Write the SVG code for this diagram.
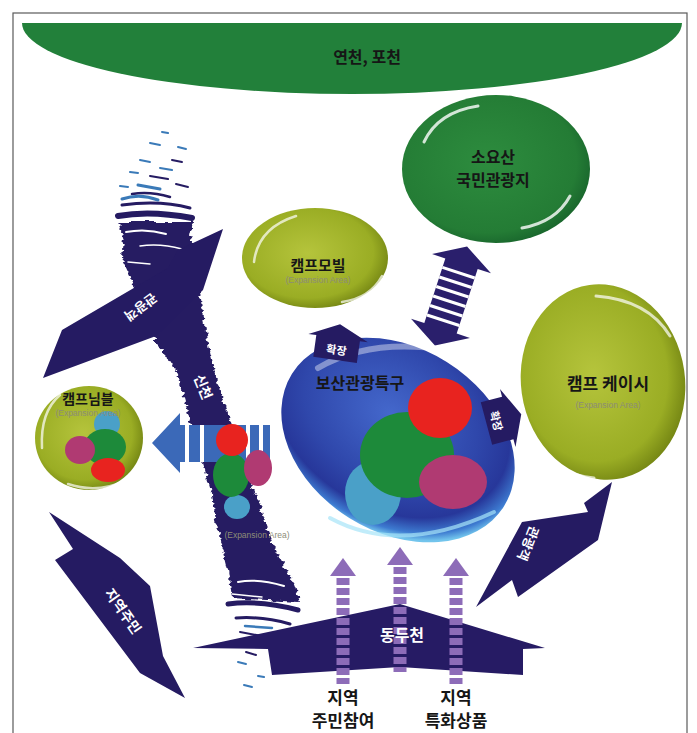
<svg xmlns="http://www.w3.org/2000/svg" width="697" height="733" viewBox="0 0 697 733">
<style>
.ko{font-family:"Noto Sans CJK KR","Noto Sans",sans-serif;font-weight:700;text-anchor:middle}
.dk{fill:#161616}
.wh{fill:#ffffff}
.en{font-family:"Liberation Sans","DejaVu Sans",sans-serif;fill:#8c8c78;text-anchor:middle;font-size:8.5px}
.navy{fill:#251b62}
.stripe{fill:none;stroke:#8d6cb8;stroke-width:13;stroke-dasharray:7 3}
.hl{fill:none;stroke:#ffffff;stroke-linecap:round}
.gap{fill:#ffffff}
.speck{fill:none;stroke-linecap:round}
</style>
<defs>
  <radialGradient id="olive" cx="0.45" cy="0.45" r="0.6">
    <stop offset="0" stop-color="#b5c43c"/>
    <stop offset="0.75" stop-color="#9aad24"/>
    <stop offset="1" stop-color="#6d7e10"/>
  </radialGradient>
  <radialGradient id="forest" cx="0.45" cy="0.45" r="0.6">
    <stop offset="0" stop-color="#2d8c3e"/>
    <stop offset="0.8" stop-color="#247c35"/>
    <stop offset="1" stop-color="#16602a"/>
  </radialGradient>
  <radialGradient id="globe" cx="0.42" cy="0.4" r="0.62">
    <stop offset="0" stop-color="#4468cc"/>
    <stop offset="0.6" stop-color="#2f47ab"/>
    <stop offset="0.82" stop-color="#27379a"/>
    <stop offset="0.94" stop-color="#3d7ad0"/>
    <stop offset="1" stop-color="#72c4ec"/>
  </radialGradient>
  <filter id="rough" x="-20%" y="-10%" width="140%" height="120%">
    <feTurbulence type="fractalNoise" baseFrequency="0.09 0.25" numOctaves="2" seed="4"/>
    <feDisplacementMap in="SourceGraphic" scale="8" xChannelSelector="R" yChannelSelector="G"/>
  </filter>
</defs>

<!-- frame -->
<rect x="13" y="13" width="674" height="740" fill="#ffffff" stroke="#5a5a5a" stroke-width="1.2"/>

<!-- 연천, 포천 band -->
<g id="yeoncheon">
  <path d="M22,23 L682,23 A330,71 0 0 1 22,23 Z" fill="#22803a"/>
  <text class="ko dk" x="367" y="63" font-size="16">연천, 포천</text>
</g>

<!-- 신천 stream -->
<g id="sincheon">
  <path class="navy" filter="url(#rough)" d="M118,222 L124,240 L122,258 L130,275 L136,295 L145,315 L152,335 L165,355 L178,375 L183,395 L190,420 L198,445 L205,470 L212,495 L216,520 L222,545 L228,570 L232,598 L300,602 L292,580 L280,560 L272,540 L263,515 L256,495 L248,470 L240,450 L232,425 L223,400 L217,380 L211,355 L206,330 L201,300 L198,275 L196,255 L190,235 L193,222 Z"/>
  <!-- ragged white scratches in the water -->
  <g class="speck" stroke="#ffffff">
    <path d="M126,232 Q146,228 166,234" stroke-width="2"/>
    <path d="M140,246 Q160,243 182,249" stroke-width="1.5"/>
    <path d="M128,262 L150,264" stroke-width="1.5"/>
    <path d="M238,582 Q258,578 284,586" stroke-width="2"/>
    <path d="M232,594 L262,597" stroke-width="1.5"/>
  </g>
  <g class="speck" stroke="#251b62">
    <path d="M118,216 Q150,210 192,218" stroke-width="6"/>
    <path d="M122,205 Q160,200 190,208" stroke-width="3"/>
    <path d="M132,194 Q150,191 170,197" stroke-width="2.5"/>
    <path d="M150,176 L168,179" stroke-width="2"/>
    <path d="M176,184 L188,187" stroke-width="2"/>
    <path d="M172,160 L182,162" stroke-width="2"/>
    <path d="M228,604 Q260,600 298,610" stroke-width="5"/>
    <path d="M236,618 Q262,616 290,624" stroke-width="3"/>
    <path d="M240,632 L262,636" stroke-width="2"/>
    <path d="M246,652 L256,655" stroke-width="2"/>
  </g>
  <g class="speck" stroke="#3a7ab8">
    <path d="M122,199 Q140,193 158,200" stroke-width="3"/>
    <path d="M138,185 L160,189" stroke-width="3"/>
    <path d="M120,186 L128,187" stroke-width="2"/>
    <path d="M160,168 L172,170" stroke-width="2"/>
    <path d="M140,160 L150,162" stroke-width="2"/>
    <path d="M150,143 L160,145" stroke-width="2"/>
    <path d="M178,147 L186,149" stroke-width="2"/>
    <path d="M162,132 L168,133" stroke-width="2"/>
    <path d="M130,172 L138,173" stroke-width="2"/>
    <path d="M245,626 L272,628" stroke-width="2.5"/>
    <path d="M232,644 L244,646" stroke-width="2"/>
    <path d="M238,662 L246,664" stroke-width="2"/>
    <path d="M244,685 L252,687" stroke-width="2"/>
    <path d="M258,676 L264,677" stroke-width="2"/>
  </g>
  <text class="ko wh" x="203" y="392" font-size="14" transform="rotate(68 203 387)">신천</text>
</g>

<!-- connectors: arrows -->
<g id="connectors">
  <!-- upper-left 관광객 arrow -->
  <g id="arrow-tourist-nw">
    <polygon class="navy" points="43,378 62,330 168,268 178,250 223,229 203,290 156,336"/>
    <text class="ko wh" x="140" y="306" font-size="13" transform="rotate(144 140 306)" dominant-baseline="middle">관광객</text>
  </g>
  <!-- 지역주민 arrow -->
  <g id="arrow-residents">
    <polygon class="navy" points="49,512 120,558 150,586 163,656 185,698 140,673 55,560 73,549"/>
    <text class="ko wh" x="122" y="612" font-size="14" transform="rotate(55 122 612)" dominant-baseline="middle">지역주민</text>
  </g>
  <!-- lower-right 관광객 arrow -->
  <g id="arrow-tourist-se">
    <polygon class="navy" points="612,482 584,503 588,512 522,522 476,607 512,580 518,597 598,540"/>
    <text class="ko wh" x="527" y="543" font-size="13" transform="rotate(112 527 543)" dominant-baseline="middle">관광객</text>
  </g>
  <!-- 소요산 <-> 보산 double arrow -->
  <g id="arrow-double" transform="translate(451,296) rotate(18)">
    <polygon fill="#2a1f6c" points="0,-52 31,-34 17,-34 17,34 31,34 0,52 -31,34 -17,34 -17,-34 -31,-34"/>
    <g class="gap">
      <rect x="-17" y="-26" width="34" height="3"/>
      <rect x="-17" y="-16" width="34" height="3"/>
      <rect x="-17" y="-6" width="34" height="3"/>
      <rect x="-17" y="4" width="34" height="3"/>
      <rect x="-17" y="14" width="34" height="3"/>
      <rect x="-17" y="24" width="34" height="3"/>
    </g>
  </g>
  <!-- blue arrow to 캠프님블 -->
  <g id="arrow-west">
    <polygon fill="#3b69b8" points="152,443 180,413 180,425 270,425 270,462 180,462 180,473"/>
    <g class="gap">
      <rect x="185" y="425" width="4" height="37"/>
      <rect x="200" y="425" width="4" height="37"/>
      <rect x="246" y="425" width="4" height="37"/>
      <rect x="259" y="425" width="4" height="37"/>
    </g>
  </g>
  <!-- 동두천 wide arrow -->
  <g id="dongducheon">
    <polygon fill="#261b64" points="193,648 400,604 545,648 523,649 523,675 400,667 272,675 268,649"/>
  </g>
  <!-- striped upward arrows -->
  <g id="arrow-up-left">
    <polygon fill="#8d6cb8" points="343,558 356,576 330,576"/>
    <line class="stripe" x1="343" y1="578" x2="343" y2="684"/>
  </g>
  <g id="arrow-up-mid">
    <polygon fill="#8d6cb8" points="400,547 413,565 387,565"/>
    <line class="stripe" x1="400" y1="567" x2="400" y2="672"/>
  </g>
  <g id="arrow-up-right">
    <polygon fill="#8d6cb8" points="456,558 469,576 443,576"/>
    <line class="stripe" x1="456" y1="578" x2="456" y2="684"/>
  </g>
  <text class="ko wh" x="402" y="641" font-size="16">동두천</text>
</g>

<!-- 소요산 국민관광지 -->
<g id="soyosan">
  <ellipse cx="496" cy="169" rx="94" ry="74" fill="url(#forest)"/>
  <path class="hl" d="M424,142 Q438,112 478,106" stroke-width="3" opacity="0.8"/>
  <path class="hl" d="M522,228 Q556,222 570,196" stroke-width="3" opacity="0.8"/>
  <text class="ko dk" x="493" y="163" font-size="16">소요산</text>
  <text class="ko dk" x="493" y="186" font-size="16">국민관광지</text>
</g>

<!-- 캠프모빌 -->
<g id="camp-mobile">
  <ellipse cx="315" cy="258" rx="73" ry="50" fill="url(#olive)"/>
  <path class="hl" d="M254,262 Q258,228 296,216" stroke-width="2.5" opacity="0.7"/>
  <path class="hl" d="M342,302 Q370,298 382,276" stroke-width="2.5" opacity="0.7"/>
  <text class="ko dk" x="318" y="271" font-size="15">캠프모빌</text>
  <text class="en" x="318" y="283">(Expansion Area)</text>
</g>

<!-- 캠프님블 -->
<g id="camp-nimble">
  <ellipse cx="89" cy="438" rx="54" ry="52" fill="url(#olive)"/>
  <path class="hl" d="M42,448 Q40,412 60,395" stroke-width="2.5" opacity="0.7"/>
  <path class="hl" d="M68,484 Q98,494 126,480" stroke-width="2.5" opacity="0.7"/>
  <ellipse cx="107" cy="424" rx="13" ry="13" fill="#4aa0c8"/>
  <ellipse cx="105" cy="447" rx="21" ry="18" fill="#1d8a3a"/>
  <ellipse cx="80" cy="450" rx="15" ry="14" fill="#b03a72"/>
  <ellipse cx="108" cy="470" rx="17" ry="12" fill="#e8231f"/>
  <text class="ko dk" x="88" y="404" font-size="14">캠프님블</text>
  <text class="en" x="88" y="416">(Expansion Area)</text>
</g>

<!-- 보산관광특구 -->
<g id="bosan">
  <ellipse cx="398" cy="440" rx="125" ry="92" transform="rotate(32 398 440)" fill="url(#globe)"/>
  <path class="hl" d="M318,368 Q370,338 446,350" stroke-width="6" opacity="0.4"/>
  <path d="M330,518 Q400,556 494,512" fill="none" stroke="#a6e4f8" stroke-width="4" opacity="0.7" stroke-linecap="round"/>
  <ellipse cx="373" cy="493" rx="28" ry="32" fill="#4aa0c8"/>
  <ellipse cx="407" cy="455" rx="47" ry="43" fill="#1d8a3a"/>
  <ellipse cx="440" cy="408" rx="32" ry="30" fill="#e8231f"/>
  <ellipse cx="453" cy="482" rx="34" ry="27" fill="#b03a72"/>
  <text class="ko dk" x="360" y="389" font-size="16">보산관광특구</text>
</g>

<!-- 확장 markers -->
<g id="expand-north" transform="translate(337,346) rotate(8)">
  <polygon class="navy" points="0,-22 30,-8 22,-8 22,14 -22,14 -22,-8 -30,-8"/>
  <text class="ko wh" x="0" y="8" font-size="11">확장</text>
</g>
<g id="expand-east" transform="translate(500,420) rotate(75)">
  <polygon class="navy" points="0,-22 30,-8 22,-8 22,14 -22,14 -22,-8 -30,-8"/>
  <text class="ko wh" x="0" y="8" font-size="11">확장</text>
</g>

<!-- 신천 expansion cluster -->
<g id="sincheon-cluster">
  <ellipse cx="237" cy="507" rx="13" ry="12" fill="#4aa0c8"/>
  <ellipse cx="231" cy="475" rx="18" ry="22" fill="#1d8a3a"/>
  <ellipse cx="258" cy="468" rx="14" ry="18" fill="#b03a72"/>
  <ellipse cx="232" cy="440" rx="16" ry="16" fill="#e8231f"/>
  <text class="en" x="257" y="538" font-size="9">(Expansion Area)</text>
</g>

<!-- 캠프 케이시 -->
<g id="camp-casey">
  <ellipse cx="603" cy="382" rx="82" ry="98" transform="rotate(-8 603 382)" fill="url(#olive)"/>
  <path class="hl" d="M596,296 Q648,300 670,336" stroke-width="3" opacity="0.7"/>
  <path class="hl" d="M538,448 Q556,474 594,478" stroke-width="3" opacity="0.7"/>
  <text class="ko dk" x="608" y="390" font-size="17">캠프 케이시</text>
  <text class="en" x="608" y="408" font-size="9">(Expansion Area)</text>
</g>

<!-- bottom labels -->
<g id="labels-bottom">
  <text class="ko dk" x="343" y="704" font-size="17">지역</text>
  <text class="ko dk" x="343" y="727" font-size="17">주민참여</text>
  <text class="ko dk" x="456" y="704" font-size="17">지역</text>
  <text class="ko dk" x="456" y="727" font-size="17">특화상품</text>
</g>
</svg>
